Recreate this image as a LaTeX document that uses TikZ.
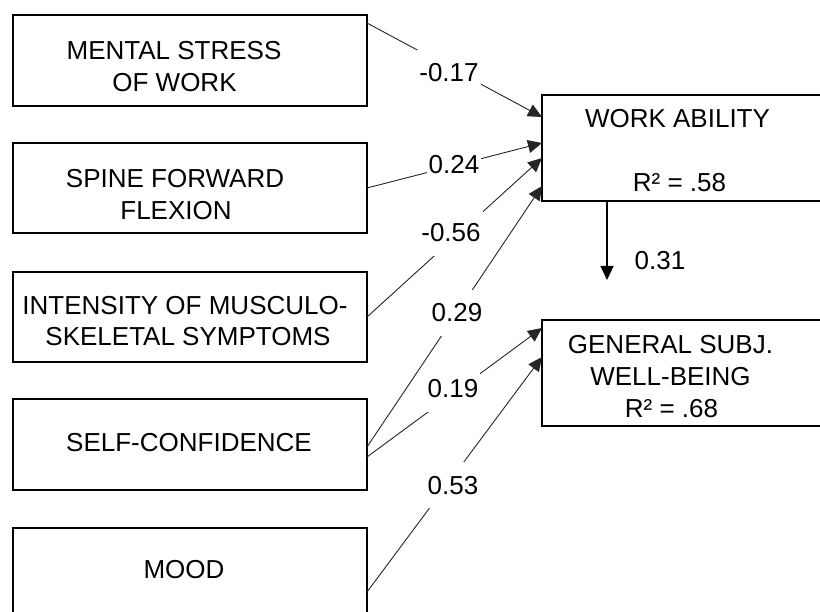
\documentclass[tikz,border=0pt]{standalone}
\usepackage{fontspec}
\setmainfont{Liberation Sans}
\usetikzlibrary{arrows.meta}
\begin{document}
\begin{tikzpicture}[x=1pt,y=-1pt,
  box/.style={draw, line width=1.2pt, minimum width=354pt, minimum height=91pt, anchor=north west, inner sep=0pt, outer sep=0pt},
  rbox/.style={draw, line width=1.2pt, minimum width=360pt, minimum height=106pt, anchor=north west, inner sep=0pt, outer sep=0pt},
  txt/.style={anchor=base, inner sep=0pt, font=\fontsize{26}{32}\selectfont},
  coef/.style={anchor=base, fill=white, inner xsep=2pt, inner ysep=14pt, font=\fontsize{26}{32}\selectfont},
  conn/.style={line width=0.9pt, draw=black!85, -{Triangle[length=14pt,width=13pt]}},
]
\fill[white] (0,0) rectangle (820,612);
\clip (0,0) rectangle (820,612);

% boxes
\node[box] (m1) at (13,15) {};
\node[box, minimum height=90pt] (m2) at (13,143) {};
\node[box, minimum height=90pt] (m3) at (13,272) {};
\node[box] (m4) at (13,399) {};
\node[box, minimum height=130pt] (m5) at (13,528) {};
\node[rbox] (wa) at (542,95) {};
\node[rbox] (gw) at (542,320) {};

% texts
\node[txt] (t1a) at (174,60) {MENTAL STRESS};
\node[txt] (t1b) at (174.5,92) {OF WORK};
\node[txt] (t2a) at (175,188) {SPINE FORWARD};
\node[txt] (t2b) at (176,220) {FLEXION};
\node[txt] (t3a) at (185,315) {INTENSITY OF MUSCULO-};
\node[txt] (t3b) at (188,346) {SKELETAL SYMPTOMS};
\node[txt] (t4) at (189,451) {SELF-CONFIDENCE};
\node[txt] (t5) at (184,578) {MOOD};
\node[txt] (twa) at (677.5,128) {WORK ABILITY};
\node[txt] (twr) at (679.5,192) {R² = .58};
\node[txt] (tga) at (670.5,354) {GENERAL SUBJ.};
\node[txt] (tgb) at (670.5,386) {WELL-BEING};
\node[txt] (tgr) at (671.5,418) {R² = .68};

% connectors
\draw[conn] ([yshift=-8pt]m1.north east) -- ([yshift=-22pt]wa.north west);
\draw[conn] (m2.east) -- ([yshift=-48pt]wa.north west);
\draw[conn] (m3.east) -- ([yshift=-63pt]wa.north west);
\draw[conn] ([yshift=-2.5pt]m4.east) -- ([yshift=-91pt]wa.north west);
\draw[conn] ([yshift=-12.5pt]m4.east) -- ([yshift=-8pt]gw.north west);
\draw[conn] ([yshift=-64pt]m5.north east) -- ([yshift=-37pt]gw.north west);
\coordinate (dn) at (607,280);
\draw[conn, line width=1.2pt, draw=black] ([xshift=65pt]wa.south west) -- (dn);

% coefficients
\node[coef] (c1) at (449,82) {-0.17};
\node[coef] (c2) at (454,174) {0.24};
\node[coef] (c3) at (451,242) {-0.56};
\node[coef] (c4) at (457,322) {0.29};
\node[coef] (c5) at (453,398) {0.19};
\node[coef] (c6) at (453,494) {0.53};
\node[coef] (c7) at (660,270) {0.31};
\end{tikzpicture}
\end{document}
